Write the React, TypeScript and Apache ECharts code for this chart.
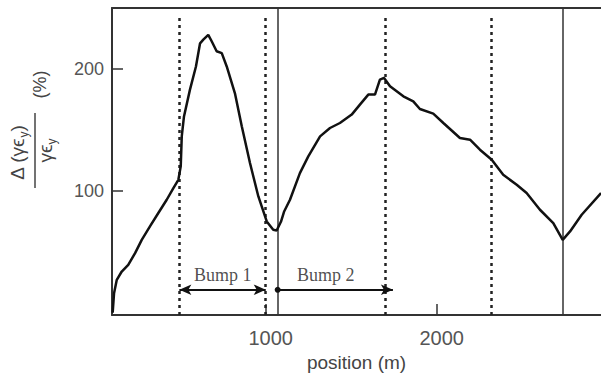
import React, { useEffect, useRef } from "react";
import * as echarts from "echarts";

const positions = [105, 113, 129, 158, 196, 236, 275, 323, 372, 421, 460, 489, 503, 509, 522, 557, 592, 616, 635, 664, 684, 713, 743, 772, 820, 860, 908, 957, 1006, 1044, 1064, 1089, 1107, 1142, 1200, 1249, 1318, 1376, 1434, 1503, 1551, 1600, 1639, 1668, 1692, 1727, 1805, 1863, 1902, 1980, 2039, 2136, 2195, 2253, 2322, 2389, 2468, 2526, 2604, 2682, 2737, 2780, 2848, 2961];
const emittance = [0, 15.9, 26.9, 33.7, 39.2, 48.8, 59.7, 70.7, 81.7, 92.6, 102.2, 109, 120, 144.6, 161, 183, 202, 221, 224, 228, 222.7, 214.5, 213, 202, 180, 153, 122.8, 95.3, 74.8, 68, 67.4, 74.5, 82.7, 92.6, 114.5, 128.2, 144.6, 151.5, 155.6, 162.5, 170.7, 178.9, 178.9, 191.2, 192.6, 185.7, 177.5, 173.4, 167.1, 163.3, 155.6, 143.3, 141.9, 133.7, 125.5, 113.1, 104.9, 98.1, 84.4, 73.5, 59.7, 66.6, 80.3, 98.1];
const dashedLines = [495, 1000, 1699, 2322];
const solidLines = [1070, 2740];
const xTicks = [1000, 2000];
const yTicks = [100, 200];
const bumpLabels = ["Bump 1", "Bump 2"];
const bumpCenters = [749, 1351];
const bump1Range = [495, 1000];
const bump2Range = [1070, 1744];
const arrowY = 18.7;
const labelY = 31;

const X_MIN = 101;
const X_MAX = 2961;
const Y_MIN = -2;
const Y_MAX = 250;

const FONT = "'Liberation Sans', 'DejaVu Sans', Arial, sans-serif";

function measure(text: string, size: number): number {
  const c = document.createElement("canvas").getContext("2d");
  if (!c) return text.length * size * 0.55;
  c.font = `${size}px ${FONT}`;
  return c.measureText(text).width;
}

function fractionPart(parts: { t: string; size: number; dy: number }[], cx: number, baseline: number, color: string) {
  const widths = parts.map((p) => measure(p.t, p.size));
  const total = widths.reduce((a, b) => a + b, 0);
  let x = cx - total / 2;
  return parts.map((p, i) => {
    const el = {
      type: "text",
      x,
      y: baseline + p.dy - 0.33 * p.size,
      style: {
        text: p.t,
        fontFamily: FONT,
        fontSize: p.size,
        fill: color,
        align: "left",
        verticalAlign: "middle",
      },
    };
    x += widths[i];
    return el;
  });
}

export default function App() {
  const ref = useRef<HTMLDivElement>(null);
  useEffect(() => {
    if (!ref.current) return;
    const chart = echarts.init(ref.current, null, { renderer: "svg" });
    const data = positions.map((p, i) => [p, emittance[i]]);
    const titleColor = "#444";
    const numerator = fractionPart(
      [
        { t: "Δ (γϵ", size: 19, dy: 0 },
        { t: "y", size: 12, dy: 4 },
        { t: ")", size: 19, dy: 0 },
      ],
      -2,
      -11,
      titleColor
    );
    const denominator = fractionPart(
      [
        { t: "γϵ", size: 19, dy: 0 },
        { t: "y", size: 12, dy: 4 },
      ],
      0,
      17,
      titleColor
    );
    const option: any = {
      animation: false,
      backgroundColor: "#fff",
      grid: { left: 112, right: 0, top: 8, bottom: 58, outerBoundsMode: "none", containLabel: false },
      xAxis: [
        {
          type: "value",
          min: X_MIN,
          max: X_MAX,
          position: "bottom",
          name: "position (m)",
          nameLocation: "middle",
          nameGap: 37,
          nameTextStyle: { fontFamily: FONT, fontSize: 19, color: "#444" },
          axisLine: { show: true, onZero: false, lineStyle: { color: "#333", width: 2 } },
          axisTick: { show: true, inside: true, length: 11, customValues: xTicks, lineStyle: { color: "#333", width: 1.5 } },
          axisLabel: {
            customValues: xTicks,
            formatter: (v: number) => String(v),
            fontFamily: FONT,
            fontSize: 20,
            color: "#555",
            margin: 13,
            padding: [0, 0, 0, 10],
          },
          splitLine: { show: false },
        },
        {
          type: "value",
          min: X_MIN,
          max: X_MAX,
          position: "top",
          axisLine: { show: true, onZero: false, lineStyle: { color: "#333", width: 2 } },
          axisTick: { show: false },
          axisLabel: { show: false },
          splitLine: { show: false },
        },
      ],
      yAxis: {
        type: "value",
        min: Y_MIN,
        max: Y_MAX,
        axisLine: { show: true, onZero: false, lineStyle: { color: "#333", width: 2 } },
        axisTick: { show: true, inside: true, length: 11, customValues: yTicks, lineStyle: { color: "#333", width: 1.5 } },
        axisLabel: {
          customValues: yTicks,
          formatter: (v: number) => String(v),
          fontFamily: FONT,
          fontSize: 18,
          color: "#555",
          margin: 8,
        },
        splitLine: { show: false },
      },
      series: [
        {
          type: "line",
          data,
          symbol: "none",
          lineStyle: { color: "#111", width: 2.5 },
          z: 5,
          markLine: {
            silent: true,
            symbol: "none",
            label: { show: false },
            data: [
              ...dashedLines.map((x) => [
                { coord: [x, Y_MIN], lineStyle: { type: [3, 4], color: "#222", width: 2.5 } },
                { coord: [x, 245] },
              ]),
              ...solidLines.map((x) => [
                { coord: [x, Y_MIN], lineStyle: { type: "solid", color: "#333", width: 1.5 } },
                { coord: [x, Y_MAX] },
              ]),
            ],
          },
        },
        {
          type: "scatter",
          data: bumpCenters.map((x, i) => ({ value: [x, labelY], name: bumpLabels[i] })),
          symbolSize: 1,
          itemStyle: { color: "rgba(0,0,0,0)" },
          label: {
            show: true,
            position: "inside",
            formatter: (p: any) => p.name,
            fontFamily: "'Liberation Serif', 'DejaVu Serif', serif",
            fontSize: 18,
            color: "#222",
          },
          markLine: {
            silent: true,
            label: { show: false },
            lineStyle: { type: "solid", color: "#111", width: 2 },
            data: [
              [
                { coord: [bump1Range[0], arrowY], symbol: "arrow", symbolSize: [8, 12] },
                { coord: [bump1Range[1], arrowY], symbol: "arrow", symbolSize: [8, 12] },
              ],
              [
                { coord: [bump2Range[0], arrowY], symbol: "circle", symbolSize: 6 },
                { coord: [bump2Range[1], arrowY], symbol: "arrow", symbolSize: [8, 12] },
              ],
            ],
          },
        },
      ],
      graphic: [
        {
          type: "group",
          x: 35,
          y: 150.5,
          rotation: Math.PI / 2,
          children: [
            ...numerator,
            {
              type: "line",
              shape: { x1: -37.5, y1: 0, x2: 37.5, y2: 0 },
              style: { stroke: titleColor, lineWidth: 1.5 },
            },
            ...denominator,
            {
              type: "text",
              x: 66,
              y: 5,
              style: {
                text: "(%)",
                align: "center",
                verticalAlign: "middle",
                fontFamily: FONT,
                fontSize: 18,
                fill: titleColor,
              },
            },
          ],
        },
      ],
    };
    chart.setOption(option);
    return () => chart.dispose();
  }, []);
  return <div ref={ref} style={{ position: "absolute", left: 0, top: 0, width: 601, height: 373 }} />;
}
